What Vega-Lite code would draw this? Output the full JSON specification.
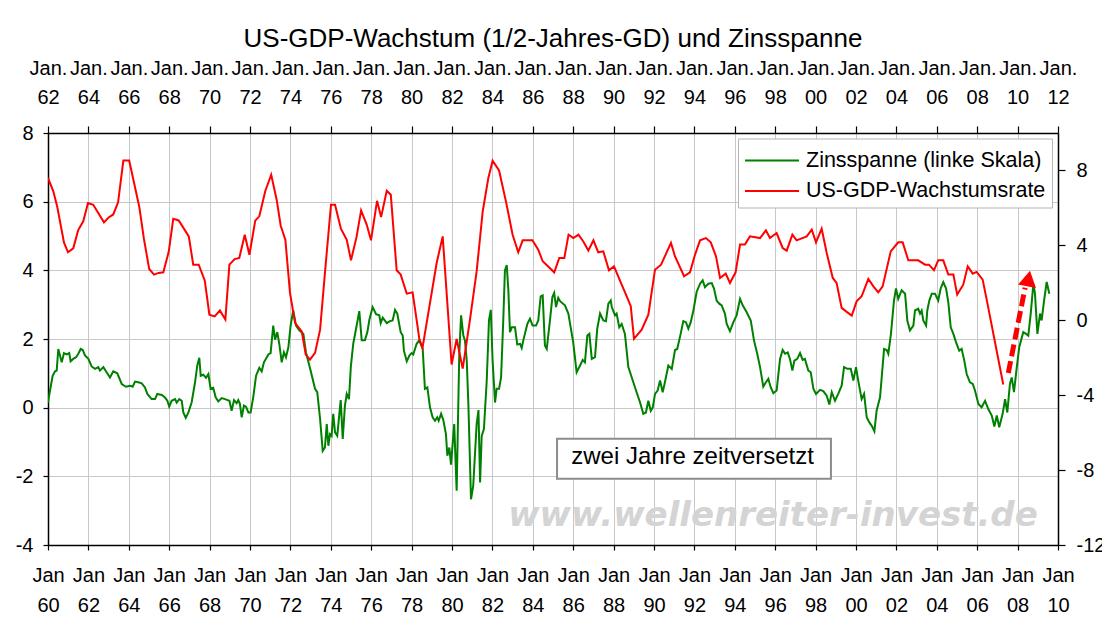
{
  "$schema": "https://vega.github.io/schema/vega-lite/v6.json",
  "autosize": {"type": "none"},
  "width": 1010,
  "height": 412,
  "padding": {"left": 48, "top": 133, "right": 44, "bottom": 80},
  "background": "white",
  "title": {"text": "US-GDP-Wachstum (1/2-Jahres-GD) und Zinsspanne", "fontSize": 26, "fontWeight": "normal", "font": "Liberation Sans", "color": "black", "anchor": "middle", "offset": 6},
  "datasets": {
    "g": [
      {"d":1960.00,"v":0.15},{"d":1960.10,"v":0.5},{"d":1960.23,"v":0.93},{"d":1960.35,"v":1.06},{"d":1960.43,"v":1.08},{"d":1960.51,"v":1.71},{"d":1960.68,"v":1.32},{"d":1960.79,"v":1.59},{"d":1960.93,"v":1.55},{"d":1961.05,"v":1.59},{"d":1961.12,"v":1.35},{"d":1961.25,"v":1.42},{"d":1961.39,"v":1.47},{"d":1961.50,"v":1.57},{"d":1961.62,"v":1.71},{"d":1961.72,"v":1.68},{"d":1961.83,"v":1.52},{"d":1962.00,"v":1.42},{"d":1962.16,"v":1.2},{"d":1962.33,"v":1.13},{"d":1962.49,"v":1.18},{"d":1962.57,"v":1.08},{"d":1962.74,"v":1.18},{"d":1962.87,"v":1.06},{"d":1963.07,"v":0.88},{"d":1963.23,"v":1.06},{"d":1963.43,"v":1.0},{"d":1963.65,"v":0.69},{"d":1963.86,"v":0.61},{"d":1964.06,"v":0.64},{"d":1964.19,"v":0.61},{"d":1964.31,"v":0.76},{"d":1964.47,"v":0.74},{"d":1964.64,"v":0.71},{"d":1964.80,"v":0.59},{"d":1964.92,"v":0.4},{"d":1965.13,"v":0.25},{"d":1965.30,"v":0.25},{"d":1965.41,"v":0.4},{"d":1965.63,"v":0.37},{"d":1965.79,"v":0.3},{"d":1965.91,"v":0.2},{"d":1966.00,"v":0.03},{"d":1966.12,"v":0.2},{"d":1966.29,"v":0.25},{"d":1966.37,"v":0.15},{"d":1966.50,"v":0.25},{"d":1966.62,"v":0.2},{"d":1966.70,"v":-0.14},{"d":1966.82,"v":-0.3},{"d":1966.95,"v":-0.14},{"d":1967.11,"v":0.15},{"d":1967.28,"v":0.74},{"d":1967.39,"v":1.23},{"d":1967.49,"v":1.45},{"d":1967.56,"v":0.93},{"d":1967.69,"v":0.96},{"d":1967.82,"v":0.87},{"d":1967.94,"v":0.98},{"d":1968.05,"v":0.55},{"d":1968.18,"v":0.58},{"d":1968.30,"v":0.3},{"d":1968.43,"v":0.18},{"d":1968.60,"v":0.28},{"d":1968.76,"v":0.25},{"d":1968.98,"v":0.2},{"d":1969.09,"v":-0.09},{"d":1969.21,"v":0.22},{"d":1969.34,"v":0.13},{"d":1969.42,"v":0.22},{"d":1969.50,"v":0.11},{"d":1969.59,"v":-0.28},{"d":1969.70,"v":0.06},{"d":1969.80,"v":0.03},{"d":1969.92,"v":-0.14},{"d":1970.03,"v":-0.14},{"d":1970.16,"v":0.3},{"d":1970.30,"v":0.93},{"d":1970.46,"v":1.16},{"d":1970.58,"v":1.06},{"d":1970.69,"v":1.32},{"d":1970.91,"v":1.55},{"d":1971.02,"v":1.59},{"d":1971.15,"v":2.39},{"d":1971.24,"v":1.98},{"d":1971.35,"v":2.2},{"d":1971.45,"v":1.86},{"d":1971.57,"v":1.32},{"d":1971.68,"v":1.61},{"d":1971.78,"v":1.47},{"d":1971.90,"v":1.76},{"d":1972.01,"v":2.39},{"d":1972.14,"v":2.83},{"d":1972.28,"v":2.39},{"d":1972.44,"v":2.25},{"d":1972.64,"v":2.15},{"d":1972.77,"v":1.61},{"d":1973.00,"v":1.08},{"d":1973.22,"v":0.55},{"d":1973.33,"v":0.45},{"d":1973.47,"v":-0.33},{"d":1973.60,"v":-1.26},{"d":1973.71,"v":-1.16},{"d":1973.80,"v":-0.48},{"d":1973.88,"v":-1.11},{"d":1973.96,"v":-0.77},{"d":1974.04,"v":-0.82},{"d":1974.12,"v":-0.18},{"d":1974.21,"v":-0.72},{"d":1974.32,"v":-0.82},{"d":1974.49,"v":0.22},{"d":1974.59,"v":-0.91},{"d":1974.70,"v":0.06},{"d":1974.79,"v":0.4},{"d":1974.90,"v":0.25},{"d":1974.99,"v":1.18},{"d":1975.11,"v":1.86},{"d":1975.25,"v":2.3},{"d":1975.41,"v":2.81},{"d":1975.53,"v":1.96},{"d":1975.69,"v":1.96},{"d":1975.81,"v":2.2},{"d":1975.91,"v":2.56},{"d":1976.07,"v":2.93},{"d":1976.24,"v":2.72},{"d":1976.40,"v":2.69},{"d":1976.47,"v":2.46},{"d":1976.57,"v":2.62},{"d":1976.77,"v":2.46},{"d":1976.93,"v":2.52},{"d":1977.06,"v":2.54},{"d":1977.18,"v":2.85},{"d":1977.29,"v":2.74},{"d":1977.46,"v":2.2},{"d":1977.56,"v":2.1},{"d":1977.62,"v":1.66},{"d":1977.76,"v":1.35},{"d":1977.89,"v":1.52},{"d":1978.00,"v":1.59},{"d":1978.08,"v":1.55},{"d":1978.25,"v":1.86},{"d":1978.38,"v":1.96},{"d":1978.55,"v":1.71},{"d":1978.66,"v":0.55},{"d":1978.78,"v":0.59},{"d":1978.91,"v":0.01},{"d":1979.04,"v":-0.28},{"d":1979.16,"v":-0.38},{"d":1979.27,"v":-0.28},{"d":1979.34,"v":-0.38},{"d":1979.46,"v":-0.18},{"d":1979.57,"v":-0.36},{"d":1979.70,"v":-0.77},{"d":1979.77,"v":-1.4},{"d":1979.87,"v":-1.16},{"d":1979.95,"v":-1.66},{"d":1980.11,"v":-0.48},{"d":1980.23,"v":-2.42},{"d":1980.36,"v":1.57},{"d":1980.45,"v":2.69},{"d":1980.56,"v":2.1},{"d":1980.64,"v":1.96},{"d":1980.73,"v":1.37},{"d":1980.81,"v":0.11},{"d":1980.94,"v":-2.67},{"d":1981.05,"v":-2.28},{"d":1981.22,"v":-0.48},{"d":1981.31,"v":-0.07},{"d":1981.39,"v":-2.18},{"d":1981.47,"v":-0.82},{"d":1981.58,"v":-0.62},{"d":1981.72,"v":0.79},{"d":1981.83,"v":2.54},{"d":1981.92,"v":2.85},{"d":1982.01,"v":1.37},{"d":1982.13,"v":0.15},{"d":1982.21,"v":0.55},{"d":1982.33,"v":0.55},{"d":1982.43,"v":0.88},{"d":1982.54,"v":2.59},{"d":1982.62,"v":4.0},{"d":1982.71,"v":4.15},{"d":1982.79,"v":3.42},{"d":1982.87,"v":2.2},{"d":1982.96,"v":2.34},{"d":1983.12,"v":2.34},{"d":1983.23,"v":1.84},{"d":1983.37,"v":1.86},{"d":1983.45,"v":1.74},{"d":1983.53,"v":1.96},{"d":1983.73,"v":2.44},{"d":1983.86,"v":2.59},{"d":1983.99,"v":2.39},{"d":1984.16,"v":2.39},{"d":1984.27,"v":2.54},{"d":1984.39,"v":3.24},{"d":1984.49,"v":3.27},{"d":1984.60,"v":1.81},{"d":1984.69,"v":1.71},{"d":1984.85,"v":2.54},{"d":1984.97,"v":3.22},{"d":1985.06,"v":3.34},{"d":1985.15,"v":2.93},{"d":1985.26,"v":3.2},{"d":1985.35,"v":3.1},{"d":1985.59,"v":2.98},{"d":1985.76,"v":2.74},{"d":1986.00,"v":1.91},{"d":1986.17,"v":1.03},{"d":1986.34,"v":1.23},{"d":1986.47,"v":1.39},{"d":1986.58,"v":1.32},{"d":1986.70,"v":2.1},{"d":1986.80,"v":2.15},{"d":1986.92,"v":1.42},{"d":1987.08,"v":1.47},{"d":1987.19,"v":2.3},{"d":1987.33,"v":2.74},{"d":1987.49,"v":2.54},{"d":1987.62,"v":2.52},{"d":1987.74,"v":3.03},{"d":1987.86,"v":3.12},{"d":1987.91,"v":2.93},{"d":1988.07,"v":2.69},{"d":1988.15,"v":2.74},{"d":1988.28,"v":2.34},{"d":1988.40,"v":2.44},{"d":1988.56,"v":2.15},{"d":1988.73,"v":1.18},{"d":1988.90,"v":0.88},{"d":1989.11,"v":0.5},{"d":1989.31,"v":0.15},{"d":1989.47,"v":-0.18},{"d":1989.60,"v":-0.14},{"d":1989.72,"v":0.2},{"d":1989.84,"v":-0.09},{"d":1989.94,"v":0.01},{"d":1990.05,"v":0.4},{"d":1990.18,"v":0.5},{"d":1990.30,"v":0.79},{"d":1990.43,"v":0.45},{"d":1990.54,"v":0.74},{"d":1990.71,"v":1.23},{"d":1990.88,"v":1.13},{"d":1991.04,"v":1.68},{"d":1991.15,"v":1.71},{"d":1991.32,"v":2.15},{"d":1991.45,"v":2.52},{"d":1991.58,"v":2.49},{"d":1991.70,"v":2.3},{"d":1991.82,"v":2.49},{"d":1991.95,"v":2.83},{"d":1992.11,"v":3.37},{"d":1992.28,"v":3.61},{"d":1992.41,"v":3.71},{"d":1992.52,"v":3.51},{"d":1992.69,"v":3.61},{"d":1992.86,"v":3.63},{"d":1992.97,"v":3.47},{"d":1993.10,"v":3.12},{"d":1993.23,"v":3.03},{"d":1993.35,"v":2.98},{"d":1993.51,"v":2.74},{"d":1993.60,"v":2.44},{"d":1993.76,"v":2.23},{"d":1993.93,"v":2.49},{"d":1994.09,"v":2.69},{"d":1994.26,"v":3.17},{"d":1994.39,"v":2.98},{"d":1994.59,"v":2.78},{"d":1994.79,"v":2.54},{"d":1994.95,"v":1.96},{"d":1995.11,"v":1.57},{"d":1995.25,"v":1.18},{"d":1995.41,"v":0.61},{"d":1995.54,"v":0.74},{"d":1995.66,"v":0.84},{"d":1995.78,"v":0.59},{"d":1995.91,"v":0.42},{"d":1996.07,"v":0.5},{"d":1996.24,"v":1.42},{"d":1996.37,"v":1.68},{"d":1996.49,"v":1.57},{"d":1996.62,"v":1.61},{"d":1996.73,"v":1.42},{"d":1996.85,"v":1.08},{"d":1996.95,"v":1.37},{"d":1997.09,"v":1.42},{"d":1997.23,"v":1.59},{"d":1997.36,"v":1.39},{"d":1997.47,"v":1.42},{"d":1997.64,"v":1.08},{"d":1997.76,"v":1.03},{"d":1997.89,"v":0.55},{"d":1998.02,"v":0.4},{"d":1998.22,"v":0.52},{"d":1998.38,"v":0.48},{"d":1998.55,"v":0.35},{"d":1998.68,"v":0.09},{"d":1998.80,"v":0.45},{"d":1998.96,"v":0.2},{"d":1999.12,"v":0.4},{"d":1999.29,"v":0.64},{"d":1999.41,"v":1.18},{"d":1999.57,"v":1.13},{"d":1999.74,"v":1.13},{"d":1999.87,"v":0.79},{"d":2000.00,"v":1.18},{"d":2000.11,"v":0.79},{"d":2000.28,"v":0.25},{"d":2000.40,"v":0.4},{"d":2000.53,"v":-0.28},{"d":2000.66,"v":-0.43},{"d":2000.78,"v":-0.53},{"d":2000.91,"v":-0.69},{"d":2001.02,"v":-0.09},{"d":2001.19,"v":0.3},{"d":2001.39,"v":1.71},{"d":2001.52,"v":1.68},{"d":2001.60,"v":1.57},{"d":2001.73,"v":2.15},{"d":2001.88,"v":3.12},{"d":2001.98,"v":3.47},{"d":2002.09,"v":3.17},{"d":2002.26,"v":3.42},{"d":2002.43,"v":3.32},{"d":2002.54,"v":2.54},{"d":2002.67,"v":2.25},{"d":2002.84,"v":2.39},{"d":2002.92,"v":2.83},{"d":2003.08,"v":2.88},{"d":2003.17,"v":2.74},{"d":2003.25,"v":2.83},{"d":2003.33,"v":2.54},{"d":2003.47,"v":2.39},{"d":2003.53,"v":2.83},{"d":2003.63,"v":3.12},{"d":2003.75,"v":3.32},{"d":2003.91,"v":3.32},{"d":2004.07,"v":3.12},{"d":2004.19,"v":3.47},{"d":2004.32,"v":3.66},{"d":2004.46,"v":3.47},{"d":2004.57,"v":3.07},{"d":2004.69,"v":2.34},{"d":2004.82,"v":2.15},{"d":2004.95,"v":1.91},{"d":2005.11,"v":1.66},{"d":2005.23,"v":1.71},{"d":2005.36,"v":1.37},{"d":2005.48,"v":0.98},{"d":2005.64,"v":0.74},{"d":2005.78,"v":0.69},{"d":2005.89,"v":0.5},{"d":2006.06,"v":0.11},{"d":2006.22,"v":0.01},{"d":2006.39,"v":0.2},{"d":2006.55,"v":-0.04},{"d":2006.72,"v":-0.23},{"d":2006.85,"v":-0.55},{"d":2006.97,"v":-0.23},{"d":2007.09,"v":-0.57},{"d":2007.26,"v":-0.18},{"d":2007.38,"v":0.25},{"d":2007.49,"v":-0.14},{"d":2007.62,"v":0.69},{"d":2007.71,"v":0.88},{"d":2007.82,"v":0.45},{"d":2007.96,"v":1.18},{"d":2008.08,"v":1.76},{"d":2008.28,"v":2.2},{"d":2008.42,"v":2.15},{"d":2008.53,"v":2.1},{"d":2008.65,"v":2.74},{"d":2008.78,"v":3.61},{"d":2008.86,"v":3.32},{"d":2008.98,"v":2.15},{"d":2009.11,"v":2.74},{"d":2009.19,"v":2.54},{"d":2009.31,"v":3.12},{"d":2009.44,"v":3.66},{"d":2009.57,"v":3.32}
    ],
    "r": [
      {"d":1962.00,"v":7.6},{"d":1962.26,"v":6.9},{"d":1962.46,"v":6.05},{"d":1962.79,"v":4.16},{"d":1962.99,"v":3.63},{"d":1963.25,"v":3.84},{"d":1963.49,"v":4.8},{"d":1963.75,"v":5.3},{"d":1963.98,"v":6.26},{"d":1964.24,"v":6.17},{"d":1964.77,"v":5.23},{"d":1965.00,"v":5.49},{"d":1965.23,"v":5.65},{"d":1965.47,"v":6.3},{"d":1965.73,"v":8.53},{"d":1966.02,"v":8.53},{"d":1966.52,"v":6.05},{"d":1966.75,"v":4.34},{"d":1967.01,"v":2.74},{"d":1967.25,"v":2.44},{"d":1967.48,"v":2.53},{"d":1967.71,"v":2.56},{"d":1967.98,"v":3.68},{"d":1968.20,"v":5.42},{"d":1968.47,"v":5.33},{"d":1968.97,"v":4.48},{"d":1969.19,"v":2.97},{"d":1969.46,"v":2.97},{"d":1969.76,"v":2.13},{"d":1969.99,"v":0.3},{"d":1970.25,"v":0.21},{"d":1970.51,"v":0.52},{"d":1970.78,"v":0.04},{"d":1970.98,"v":2.97},{"d":1971.24,"v":3.27},{"d":1971.47,"v":3.33},{"d":1971.74,"v":4.57},{"d":1971.97,"v":3.5},{"d":1972.26,"v":5.32},{"d":1972.46,"v":5.55},{"d":1972.76,"v":6.92},{"d":1973.05,"v":7.77},{"d":1973.32,"v":6.44},{"d":1973.52,"v":5.05},{"d":1973.75,"v":4.3},{"d":1973.98,"v":1.46},{"d":1974.23,"v":-0.14},{"d":1974.56,"v":-0.59},{"d":1974.76,"v":-1.83},{"d":1974.97,"v":-2.1},{"d":1975.22,"v":-1.74},{"d":1975.47,"v":-0.5},{"d":1975.71,"v":2.53},{"d":1976.01,"v":6.17},{"d":1976.21,"v":6.17},{"d":1976.50,"v":4.89},{"d":1976.79,"v":4.3},{"d":1977.00,"v":3.2},{"d":1977.28,"v":4.48},{"d":1977.50,"v":5.87},{"d":1977.78,"v":5.1},{"d":1977.99,"v":4.27},{"d":1978.29,"v":6.38},{"d":1978.49,"v":5.51},{"d":1978.77,"v":6.92},{"d":1978.97,"v":6.7},{"d":1979.26,"v":2.67},{"d":1979.46,"v":2.44},{"d":1979.76,"v":1.42},{"d":1980.05,"v":1.49},{"d":1980.27,"v":-0.14},{"d":1980.38,"v":-0.99},{"d":1980.54,"v":-1.47},{"d":1981.24,"v":3.06},{"d":1981.54,"v":4.48},{"d":1981.98,"v":-2.36},{"d":1982.23,"v":-1.0},{"d":1982.53,"v":-2.58},{"d":1982.89,"v":0.04},{"d":1983.22,"v":2.61},{"d":1983.52,"v":5.81},{"d":1983.80,"v":7.6},{"d":1984.01,"v":8.52},{"d":1984.33,"v":8.0},{"d":1984.67,"v":6.35},{"d":1985.00,"v":4.57},{"d":1985.28,"v":3.63},{"d":1985.50,"v":4.27},{"d":1985.98,"v":4.27},{"d":1986.27,"v":3.77},{"d":1986.49,"v":3.15},{"d":1987.06,"v":2.56},{"d":1987.31,"v":3.33},{"d":1987.56,"v":3.33},{"d":1987.77,"v":4.57},{"d":1988.01,"v":4.39},{"d":1988.26,"v":4.57},{"d":1988.50,"v":4.21},{"d":1988.75,"v":3.72},{"d":1989.00,"v":4.27},{"d":1989.24,"v":3.63},{"d":1989.49,"v":3.68},{"d":1989.77,"v":2.67},{"d":1990.02,"v":2.88},{"d":1990.40,"v":1.9},{"d":1990.65,"v":1.28},{"d":1990.85,"v":0.75},{"d":1991.01,"v":-0.99},{"d":1991.39,"v":-0.5},{"d":1991.72,"v":0.3},{"d":1992.05,"v":2.7},{"d":1992.35,"v":2.97},{"d":1992.84,"v":4.13},{"d":1993.04,"v":3.41},{"d":1993.49,"v":2.35},{"d":1993.78,"v":2.56},{"d":1994.03,"v":3.5},{"d":1994.28,"v":4.27},{"d":1994.57,"v":4.39},{"d":1994.81,"v":4.16},{"d":1995.07,"v":3.41},{"d":1995.27,"v":2.26},{"d":1995.55,"v":2.49},{"d":1995.76,"v":1.99},{"d":1996.04,"v":2.56},{"d":1996.26,"v":4.04},{"d":1996.50,"v":4.04},{"d":1996.75,"v":4.48},{"d":1997.25,"v":4.39},{"d":1997.54,"v":4.8},{"d":1997.74,"v":4.39},{"d":1998.07,"v":4.66},{"d":1998.37,"v":3.86},{"d":1998.57,"v":3.72},{"d":1998.85,"v":4.57},{"d":1999.06,"v":4.27},{"d":1999.56,"v":4.48},{"d":1999.81,"v":4.84},{"d":2000.02,"v":4.16},{"d":2000.30,"v":4.89},{"d":2000.55,"v":3.59},{"d":2000.85,"v":2.26},{"d":2001.04,"v":1.99},{"d":2001.29,"v":0.66},{"d":2001.54,"v":0.45},{"d":2001.79,"v":0.25},{"d":2002.03,"v":1.01},{"d":2002.28,"v":1.28},{"d":2002.61,"v":2.21},{"d":2002.86,"v":1.81},{"d":2003.10,"v":1.49},{"d":2003.32,"v":1.81},{"d":2003.72,"v":3.68},{"d":2004.09,"v":4.16},{"d":2004.31,"v":4.16},{"d":2004.59,"v":3.2},{"d":2005.08,"v":3.2},{"d":2005.42,"v":2.97},{"d":2005.61,"v":2.97},{"d":2005.86,"v":2.67},{"d":2006.07,"v":3.2},{"d":2006.32,"v":3.2},{"d":2006.57,"v":2.44},{"d":2006.82,"v":2.44},{"d":2007.01,"v":1.37},{"d":2007.31,"v":1.9},{"d":2007.53,"v":2.88},{"d":2007.78,"v":2.49},{"d":2007.97,"v":2.58},{"d":2008.27,"v":2.17},{"d":2008.47,"v":1.1},{"d":2009.29,"v":-3.43}
    ],
    "arrow": [
      {"d":2009.54,"v":-2.81},{"d":2010.37,"v":1.74}
    ]
  },
  "layer": [
    {
      "data": {"name": "g"},
      "mark": {"type": "line", "strokeWidth": 2, "clip": true},
      "encoding": {
        "x": {"field": "d", "type": "quantitative", "scale": {"domain": [1960, 2010], "nice": false, "zero": false},
          "axis": {"orient": "bottom", "title": null, "values": [1960,1962,1964,1966,1968,1970,1972,1974,1976,1978,1980,1982,1984,1986,1988,1990,1992,1994,1996,1998,2000,2002,2004,2006,2008,2010],
            "labelExpr": "['Jan', substring(toString(datum.value), 2, 4)]", "labelLineHeight": 30, "labelPadding": 15, "tickSize": 5,
            "grid": true, "labelOverlap": false, "labelFlush": false, "labelBound": false}},
        "y": {"field": "v", "type": "quantitative", "scale": {"domain": [-4, 8], "nice": false, "zero": false},
          "axis": {"orient": "left", "title": null, "values": [-4,-2,0,2,4,6,8], "labelExpr": "toString(datum.value)", "tickSize": 5, "labelPadding": 10, "grid": true, "labelOverlap": false, "labelFlush": false, "labelBound": false}},
        "color": {"datum": "Zinsspanne (linke Skala)", "type": "nominal",
          "scale": {"domain": ["Zinsspanne (linke Skala)", "US-GDP-Wachstumsrate"], "range": ["#008000", "#ff0000"]},
          "legend": {"orient": "none", "legendX": 690, "legendY": 5.5, "title": null, "fillColor": "white", "strokeColor": "#b4b4b4", "padding": 6,
            "labelFontSize": 21.5, "labelFont": "Liberation Sans", "labelColor": "black", "labelLimit": 500, "symbolType": "M-1,0H2.6", "symbolStrokeWidth": 2, "symbolSize": 900, "rowPadding": 3.5, "labelOffset": 30}}
      }
    },
    {
      "data": {"name": "r"},
      "mark": {"type": "line", "strokeWidth": 2, "clip": true},
      "encoding": {
        "x": {"field": "d", "type": "quantitative", "scale": {"domain": [1962, 2012], "nice": false, "zero": false},
          "axis": {"orient": "top", "title": null, "values": [1962,1964,1966,1968,1970,1972,1974,1976,1978,1980,1982,1984,1986,1988,1990,1992,1994,1996,1998,2000,2002,2004,2006,2008,2010,2012],
            "labelExpr": "['Jan.', substring(toString(datum.value), 2, 4)]", "labelLineHeight": 29, "labelPadding": 48, "tickSize": 7,
            "grid": false, "labelOverlap": false, "labelFlush": false, "labelBound": false}},
        "y": {"field": "v", "type": "quantitative", "scale": {"domain": [-12, 10], "nice": false, "zero": false},
          "axis": {"orient": "right", "title": null, "values": [-12,-8,-4,0,4,8], "labelExpr": "toString(datum.value)", "tickSize": 7, "labelPadding": 11, "grid": false, "labelOverlap": false, "labelFlush": false, "labelBound": false}},
        "color": {"datum": "US-GDP-Wachstumsrate", "type": "nominal"}
      }
    },
    {
      "data": {"values": [{}]},
      "mark": {"type": "text", "text": "www.wellenreiter-invest.de", "font": "DejaVu Sans", "fontSize": 34, "fontStyle": "italic", "fontWeight": "bold", "color": "#d4d4d4", "align": "center", "baseline": "middle"},
      "encoding": {
        "x": {"datum": 1995.89, "type": "quantitative", "scale": {"domain": [1960, 2010], "nice": false, "zero": false}, "axis": null},
        "y": {"datum": -3.15, "type": "quantitative", "scale": {"domain": [-4, 8], "nice": false, "zero": false}, "axis": null}
      }
    },
    {
      "data": {"values": [{}]},
      "mark": {"type": "rect", "fill": "white", "stroke": "#8c8c8c", "strokeWidth": 2},
      "encoding": {
        "x": {"datum": 1985.2, "type": "quantitative", "scale": {"domain": [1960, 2010], "nice": false, "zero": false}, "axis": null},
        "x2": {"datum": 1998.76},
        "y": {"datum": -0.905, "type": "quantitative", "scale": {"domain": [-4, 8], "nice": false, "zero": false}, "axis": null},
        "y2": {"datum": -2.073}
      }
    },
    {
      "data": {"values": [{}]},
      "mark": {"type": "text", "text": "zwei Jahre zeitversetzt", "font": "Liberation Sans", "fontSize": 24, "color": "black", "align": "center", "baseline": "middle"},
      "encoding": {
        "x": {"datum": 1991.91, "type": "quantitative", "scale": {"domain": [1960, 2010], "nice": false, "zero": false}, "axis": null},
        "y": {"datum": -1.45, "type": "quantitative", "scale": {"domain": [-4, 8], "nice": false, "zero": false}, "axis": null}
      }
    },
    {
      "data": {"name": "arrow"},
      "mark": {"type": "line", "strokeWidth": 5, "strokeDash": [12, 5], "color": "#ff0000", "strokeCap": "butt"},
      "encoding": {
        "x": {"field": "d", "type": "quantitative", "scale": {"domain": [1962, 2012], "nice": false, "zero": false}, "axis": null},
        "y": {"field": "v", "type": "quantitative", "scale": {"domain": [-12, 10], "nice": false, "zero": false}, "axis": null}
      }
    },
    {
      "data": {"values": [{}]},
      "mark": {"type": "point", "shape": "triangle-up", "filled": true, "color": "#ff0000", "size": 330, "angle": 11, "opacity": 1},
      "encoding": {
        "x": {"datum": 2010.54, "type": "quantitative", "scale": {"domain": [1962, 2012], "nice": false, "zero": false}, "axis": null},
        "y": {"datum": 2.23, "type": "quantitative", "scale": {"domain": [-12, 10], "nice": false, "zero": false}, "axis": null}
      }
    }
  ],
  "resolve": {"scale": {"x": "independent", "y": "independent"}},
  "config": {
    "font": "Liberation Sans",
    "view": {"stroke": null},
    "axis": {"labelFont": "Liberation Sans", "labelFontSize": 20, "labelColor": "black", "domainColor": "black", "domainWidth": 1.5, "tickColor": "black", "tickWidth": 1.2, "gridColor": "#c8c8c8", "gridWidth": 1}
  }
}
